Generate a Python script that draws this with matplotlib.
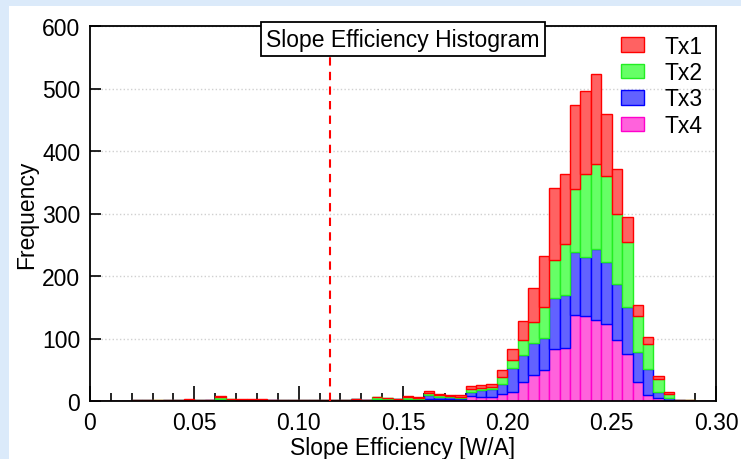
import numpy as np
import matplotlib
matplotlib.use("Agg")
import matplotlib.pyplot as plt
from matplotlib.patches import Rectangle
from matplotlib.ticker import MultipleLocator

plt.rcParams['font.family'] = ['Liberation Sans', 'DejaVu Sans']
plt.rcParams['font.size'] = 16.5

# histogram bins: 0 .. 0.30 W/A in steps of 0.005
bin_edges = np.linspace(0, 0.30, 61)

series = ['Tx1', 'Tx2', 'Tx3', 'Tx4']

tx4 = [0, 0, 0, 0, 0, 0, 0, 0, 0, 1,
       0, 1, 2, 1, 1, 1, 1, 1, 0, 0,
       0, 0, 0, 0, 0, 1, 1, 1, 1, 1,
       2, 2, 4, 3, 3, 3, 8, 7, 7, 11,
       14, 31, 42, 49, 83, 85, 138, 136, 130, 123,
       98, 76, 30, 10, 5, 2, 0, 0, 0, 0]
tx3 = [0, 0, 0, 0, 1, 1, 0, 1, 1, 0,
       1, 0, 2, 1, 0, 0, 0, 0, 1, 1,
       1, 1, 1, 1, 1, 2, 1, 3, 2, 2,
       2, 2, 6, 4, 3, 2, 7, 11, 12, 16,
       39, 42, 51, 52, 82, 84, 101, 94, 114, 99,
       89, 75, 48, 41, 10, 3, 1, 0, 0, 0]
tx2 = [0, 0, 0, 0, 0, 0, 1, 0, 0, 1,
       0, 1, 2, 1, 1, 1, 1, 0, 0, 0,
       0, 0, 0, 0, 0, 0, 0, 2, 2, 1,
       3, 1, 3, 3, 2, 2, 4, 3, 3, 11,
       12, 24, 33, 49, 60, 83, 101, 133, 136, 138,
       112, 103, 58, 40, 21, 6, 1, 1, 0, 0]
tx1 = [0, 0, 0, 0, 0, 0, 0, 1, 1, 2,
       0, 0, 2, 1, 1, 1, 1, 1, 0, 1,
       0, 0, 1, 0, 0, 0, 0, 0, 0, 0,
       1, 1, 3, 1, 2, 2, 5, 4, 6, 12,
       18, 31, 55, 82, 116, 111, 133, 133, 143, 100,
       73, 41, 17, 11, 4, 3, 0, 0, 0, 0]

spec_limit = 0.115

fill_colors = {'Tx1': '#ff6262', 'Tx2': '#66ff66', 'Tx3': '#6262ff', 'Tx4': '#ff62dc'}
edge_colors = {'Tx1': '#ff0000', 'Tx2': '#22ee22', 'Tx3': '#0000ff', 'Tx4': '#ff00cc'}

fig = plt.figure(figsize=(7.41, 4.60), dpi=100)
fig.patch.set_facecolor('white')
# light blue border strips along the top and left edges
fig.patches.append(Rectangle((0, 0), 9 / 741, 1, transform=fig.transFigure,
                             facecolor='#dbeafa', edgecolor='none', zorder=0))
fig.patches.append(Rectangle((0, 1 - 7 / 460), 1, 7 / 460, transform=fig.transFigure,
                             facecolor='#dbeafa', edgecolor='none', zorder=0))

ax = fig.add_axes([90 / 741, 58 / 460, 626 / 741, 375 / 460])

left = bin_edges[:-1]
width = np.diff(bin_edges)
counts = {'Tx1': tx1, 'Tx2': tx2, 'Tx3': tx3, 'Tx4': tx4}

# stack from Tx4 at the bottom up to Tx1
bottom = np.zeros(len(left))
handles = {}
for name in ['Tx4', 'Tx3', 'Tx2', 'Tx1']:
    vals = np.array(counts[name], dtype=float)
    handles[name] = ax.bar(left, vals, width=width, bottom=bottom, align='edge',
                           color=fill_colors[name], edgecolor=edge_colors[name],
                           linewidth=1.0, label=name)
    bottom += vals

ax.axvline(spec_limit, color='red', linestyle=(0, (4, 3)), linewidth=1.5, zorder=3)

ax.set_xlim(0, 0.30)
ax.set_ylim(0, 600)
ax.set_xticks([0, 0.05, 0.10, 0.15, 0.20, 0.25, 0.30])
ax.set_xticklabels(['0', '0.05', '0.10', '0.15', '0.20', '0.25', '0.30'])
ax.xaxis.set_minor_locator(MultipleLocator(0.01))
ax.set_yticks(range(0, 601, 100))

ax.tick_params(axis='x', which='major', direction='in', length=11, width=1.2, pad=7,
               top=False)
ax.tick_params(axis='x', which='minor', direction='in', length=6, width=1.2, top=False)
ax.tick_params(axis='y', which='major', direction='in', length=8, width=1.2, pad=7,
               right=False)
for s in ax.spines.values():
    s.set_linewidth(1.3)

ax.yaxis.grid(True, linestyle=':', color='#d0d0d0', linewidth=1)
ax.set_axisbelow(True)

ax.set_xlabel('Slope Efficiency [W/A]', labelpad=2)
ax.set_ylabel('Frequency', labelpad=3)

ax.text(0.5, 0.965, 'Slope Efficiency Histogram', transform=ax.transAxes,
        ha='center', va='center', zorder=5,
        bbox=dict(boxstyle='square,pad=0.25', facecolor='white', edgecolor='black',
                  linewidth=1.3))

ax.legend([handles[n] for n in series], series, loc='upper right', frameon=False,
          bbox_to_anchor=(1.005, 1.02),
          handlelength=1.0, handleheight=0.6, handletextpad=0.9, labelspacing=0.15,
          borderaxespad=0.3)

fig.savefig('out.png', dpi=100)
